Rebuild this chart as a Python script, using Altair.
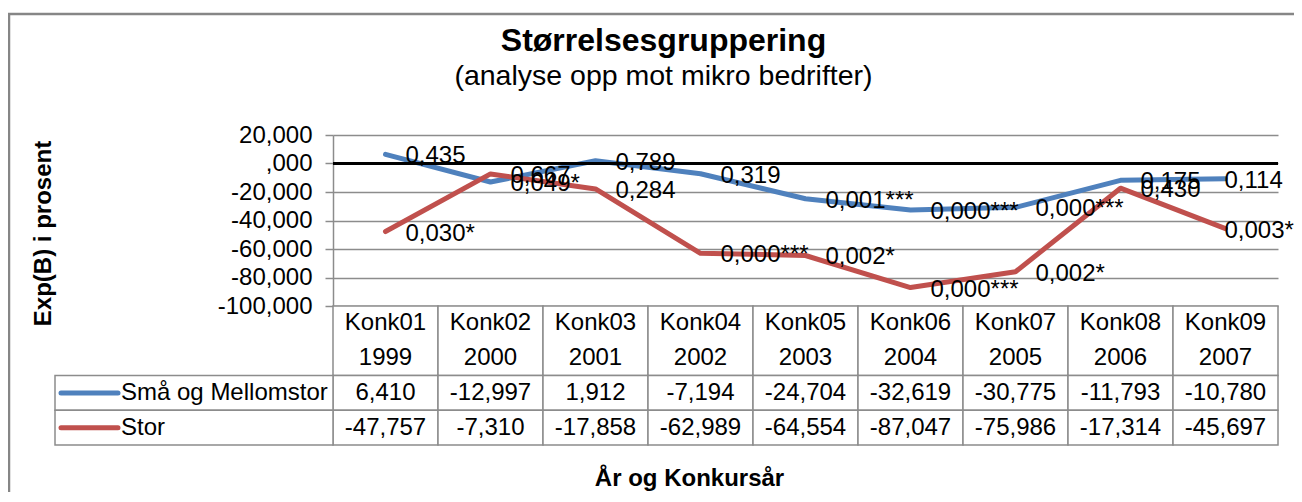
import altair as alt
import pandas as pd

# ---- data ----
cats = ["Konk01", "Konk02", "Konk03", "Konk04", "Konk05", "Konk06", "Konk07", "Konk08", "Konk09"]
years = ["1999", "2000", "2001", "2002", "2003", "2004", "2005", "2006", "2007"]
series_names = ["Små og Mellomstor", "Stor"]
sma = [6.410, -12.997, 1.912, -7.194, -24.704, -32.619, -30.775, -11.793, -10.780]
stor = [-47.757, -7.310, -17.858, -62.989, -64.554, -87.047, -75.986, -17.314, -45.697]
sma_p = ["0,435", "0,049*", "0,789", "0,319", "0,001***", "0,000***", "0,000***", "0,175", "0,114"]
stor_p = ["0,030*", "0,667", "0,284", "0,000***", "0,002*", "0,000***", "0,002*", "0,430", "0,003*"]
y_ticks = [20, 0, -20, -40, -60, -80, -100]
colors = ["#4F81BD", "#C0504D"]

# table rows: header occupies rows 0-2, then one row per series
series_rows = [2, 3]

records = []
for name, vals, ps, r in zip(series_names, [sma, stor], [sma_p, stor_p], series_rows):
    for c, yr, v, p in zip(cats, years, vals, ps):
        records.append(dict(cat=c, year=yr, series=name, value=v, p=p, r0=r, r1=r + 1, rm=r + 0.5))
df = pd.DataFrame(records)
hdr = pd.DataFrame(dict(cat=cats, year=years, r0=[0] * len(cats), r1=[2] * len(cats)))
leg = pd.DataFrame(dict(series=series_names, r0=series_rows, r1=[r + 1 for r in series_rows],
                        rm=[r + 0.5 for r in series_rows]))

FONT = "Liberation Sans"
W, H = 945, 310
PLOT_H = 171
GRAY = "#8c8c8c"
FS = 24

xs = alt.Scale(type="band", domain=cats, paddingInner=0, paddingOuter=0)
ys = alt.Scale(domain=[-100, 20], range=[PLOT_H, 0], nice=False, zero=False)
ts = alt.Scale(domain=[0, 4], range=[PLOT_H, H], nice=False, zero=False)
cs = alt.Scale(domain=series_names, range=colors)

x_axis = alt.Axis(labels=False, ticks=False, domain=False, grid=False,
                  title="År og Konkursår", titleFont=FONT, titleFontSize=24,
                  titleFontWeight="bold", titleColor="black", titlePadding=21, titleX=356)


def X(**kw):
    return alt.X("cat:N", scale=xs, axis=x_axis, sort=cats, **kw)


y_axis = alt.Axis(values=y_ticks, format=".3f",
                  labelExpr="datum.value == 0 ? ',000' : datum.label",
                  labelFont=FONT, labelFontSize=FS, labelColor="black", labelPadding=13,
                  tickSize=8, tickColor=GRAY, tickWidth=1.5,
                  domainColor=GRAY, domainWidth=1.5,
                  grid=True, gridColor=GRAY, gridWidth=1.5,
                  title="Exp(B) i prosent", titleFont=FONT, titleFontSize=24,
                  titleFontWeight="bold", titleColor="black",
                  titleX=-290, titleY=98, titleAlign="center", titleBaseline="middle", titleAngle=-90)

# chart-area frame (left and top edges; the others run off the picture)
frame_left = alt.Chart(pd.DataFrame({"a": [0]})).mark_rule(color="#868686", strokeWidth=2.5).encode(
    x=alt.value(-324), y=alt.value(-121), y2=alt.value(500))
frame_top = alt.Chart(pd.DataFrame({"a": [0]})).mark_rule(color="#868686", strokeWidth=2.5).encode(
    x=alt.value(-325), x2=alt.value(1100), y=alt.value(-121))

lines = alt.Chart(df).mark_line(strokeWidth=5, strokeJoin="round", strokeCap="round").encode(
    x=X(bandPosition=0.5),
    y=alt.Y("value:Q", scale=ys, axis=y_axis),
    color=alt.Color("series:N", scale=cs, legend=None),
)

zero = alt.Chart(pd.DataFrame({"a": [0]})).mark_rule(color="black", strokeWidth=3).encode(
    y=alt.YDatum(0, scale=ys, axis=None)
)

last = cats[-1]
labels = alt.Chart(df).transform_filter(alt.datum.cat != last).mark_text(
    align="left", baseline="middle", dx=20, dy=2, font=FONT, fontSize=FS, color="black"
).encode(
    x=X(bandPosition=0.5),
    y=alt.Y("value:Q", scale=ys, axis=None),
    text="p:N",
)
labels_last = alt.Chart(df).transform_filter(alt.datum.cat == last).mark_text(
    align="left", baseline="middle", dx=-1, dy=2, font=FONT, fontSize=FS, color="black"
).encode(
    x=X(bandPosition=0.5),
    y=alt.Y("value:Q", scale=ys, axis=None),
    text="p:N",
)

hdr_cells = alt.Chart(hdr).mark_rect(fill="white", stroke=GRAY, strokeWidth=1.5).encode(
    x=X(),
    y=alt.Y("r0:Q", scale=ts, axis=None),
    y2="r1:Q",
)
val_cells = alt.Chart(df).mark_rect(fill="white", stroke=GRAY, strokeWidth=1.5).encode(
    x=X(),
    y=alt.Y("r0:Q", scale=ts, axis=None),
    y2="r1:Q",
)
leg_cells = alt.Chart(leg).mark_rect(fill="white", stroke=GRAY, strokeWidth=1.5).encode(
    x=alt.value(-278), x2=alt.value(0),
    y=alt.Y("r0:Q", scale=ts, axis=None),
    y2="r1:Q",
)

hdr_cat = alt.Chart(hdr).mark_text(font=FONT, fontSize=FS, color="black", baseline="middle").encode(
    x=X(bandPosition=0.5),
    y=alt.YDatum(0.5, scale=ts, axis=None),
    text="cat:N",
)
hdr_year = alt.Chart(hdr).mark_text(font=FONT, fontSize=FS, color="black", baseline="middle").encode(
    x=X(bandPosition=0.5),
    y=alt.YDatum(1.5, scale=ts, axis=None),
    text="year:N",
)
val_text = alt.Chart(df).mark_text(font=FONT, fontSize=FS, color="black", baseline="middle").encode(
    x=X(bandPosition=0.5),
    y=alt.Y("rm:Q", scale=ts, axis=None),
    text=alt.Text("value:Q", format=".3f"),
)
leg_swatch = alt.Chart(leg).mark_rule(strokeWidth=5, strokeCap="round").encode(
    x=alt.value(-272), x2=alt.value(-215),
    y=alt.Y("rm:Q", scale=ts, axis=None),
    color=alt.Color("series:N", scale=cs, legend=None),
)
leg_text = alt.Chart(leg).mark_text(font=FONT, fontSize=FS, color="black", align="left",
                                    baseline="middle").encode(
    x=alt.value(-212),
    y=alt.Y("rm:Q", scale=ts, axis=None),
    text="series:N",
)

chart = alt.layer(
    frame_left, frame_top, hdr_cells, val_cells, leg_cells, lines, zero, labels, labels_last,
    hdr_cat, hdr_year, val_text, leg_swatch, leg_text,
).resolve_scale(y="independent").properties(
    width=W, height=H,
    autosize=alt.AutoSizeParams(type="none"),
    padding={"left": 325, "top": 127, "right": 16, "bottom": 47},
    title=alt.TitleParams(
        text="Størrelsesgruppering", subtitle="(analyse opp mot mikro bedrifter)",
        font=FONT, fontSize=32, fontWeight="bold", color="black",
        subtitleFont=FONT, subtitleFontSize=28.5, subtitleColor="black", subtitlePadding=4,
        anchor="middle", frame="group", dx=-142, dy=83,
    ),
).configure(
    font=FONT,
    locale=alt.Locale(number=alt.NumberLocale(decimal=",", thousands=".", grouping=[3],
                                              currency=["", ""], minus="-")),
).configure_view(stroke=None)

chart.save("out.html", embed_options={"renderer": "svg", "actions": False})
